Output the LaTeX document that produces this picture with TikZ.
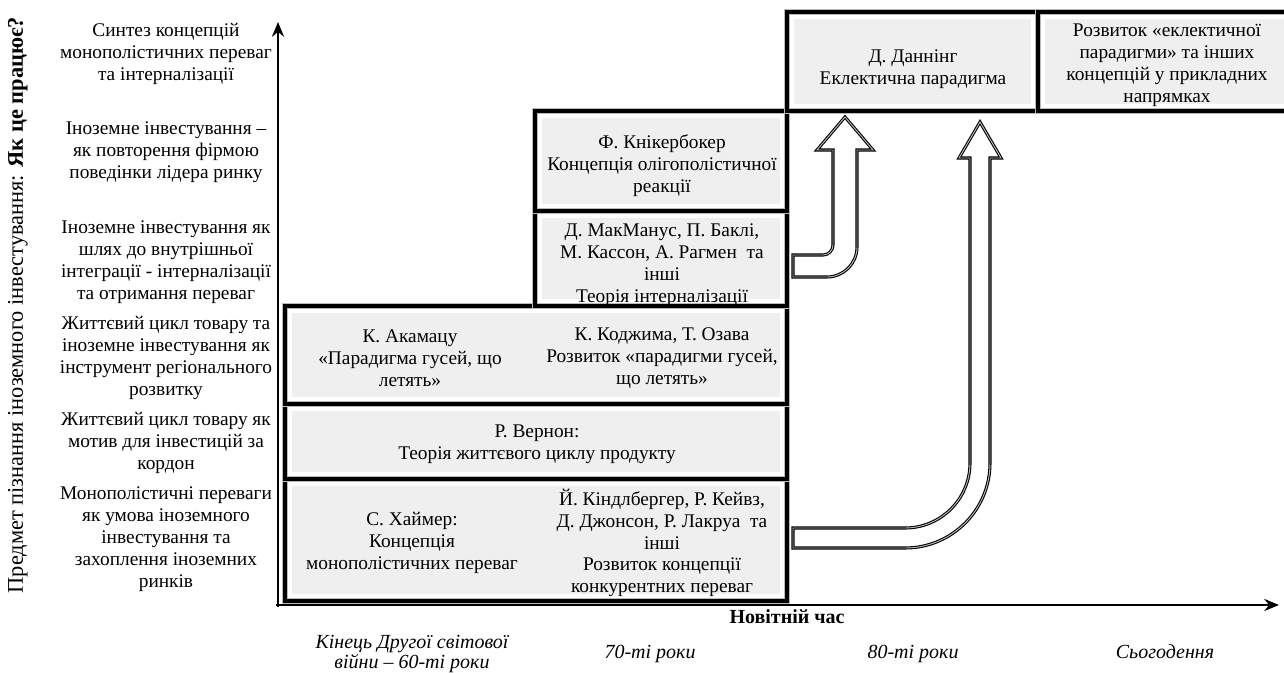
\documentclass[tikz,border=0pt]{standalone}
\usepackage{fontspec}
\setmainfont{Liberation Serif}
\usetikzlibrary{arrows.meta}
\definecolor{boxgrey}{HTML}{EFEFEF}
\tikzset{
  lbl/.style={align=center, inner sep=0pt, font=\fontsize{14.5}{16.4}\selectfont},
  frame/.style={draw=black, line width=3pt, preaction={draw=gray!55, line width=4.6pt}},
  axis/.style={line width=2pt, -{Stealth[length=11pt,width=9pt]}},
  blockarrow/.style={draw=black, line width=0.8pt, double=gray!55, double distance=0.7pt, fill=white, line join=miter},
  timelbl/.style={align=center, inner sep=0pt, font=\fontsize{15}{15.5}\selectfont\itshape},
}
\begin{document}
\begin{tikzpicture}[x=0.75pt,y=-0.75pt]
\useasboundingbox (0,0) rectangle (1284,673);
% axes
\coordinate (O) at (276,605);
\coordinate (Ytop) at (278,22);
\coordinate (Yb) at (278,607);
\coordinate (Xend) at (1279,605);
\draw[axis] (Yb) -- (Ytop);
\draw[axis] (O) -- (Xend);
% box fills
\foreach \a/\b/\c/\d in {285/479/787/601, 285/404/787/479, 285/306/787/404, 535/211/787/306, 535/111/787/211, 787/12/1038/111, 1038/12/1296/111}{
  \fill[white] (\a,\b) rectangle (\c,\d);
  \fill[boxgrey] (\a+7,\b+7) rectangle (\c-7,\d-7);
}
% frames
\foreach \a/\b/\c/\d in {285/479/787/601, 285/404/787/479, 285/306/787/404, 535/211/787/306, 535/111/787/211, 787/12/1038/111, 1038/12/1296/111}{
  \draw[frame] (\a,\b) rectangle (\c,\d);
}
% block arrows
\draw[blockarrow] (793,255) -- (823,255) arc[start angle=-90,end angle=0,radius=7.5pt]
  -- (833,150) -- (817,150) -- (845,117) -- (873,150) -- (857,150) -- (857,247)
  arc[start angle=0,end angle=-90,radius=22.5pt] -- (793,277) -- cycle;
\draw[blockarrow] (793,528) -- (905,528) arc[start angle=-90,end angle=0,radius=48.75pt]
  -- (970,158) -- (959,158) -- (980,122) -- (1001,158) -- (990,158) -- (990,463)
  arc[start angle=0,end angle=-90,radius=63.75pt] -- (793,548) -- cycle;
% vertical axis title
\node[rotate=90, inner sep=0pt, font=\fontsize{16.8}{17}\selectfont] (ytitle) at (18,305)
  {Предмет пізнання іноземного інвестування: \textbf{Як це працює?}};
% row labels
\node[lbl] (r7) at (166,54) {Синтез концепцій\\монополістичних переваг\\та інтерналізації};
\node[lbl] (r6) at (166,152) {Іноземне інвестування –\\як повторення фірмою\\поведінки лідера ринку};
\node[lbl] (r5) at (166,262) {Іноземне інвестування як\\шлях до внутрішньої\\інтеграції - інтерналізації\\та отримання переваг};
\node[lbl] (r4) at (166,358) {Життєвий цикл товару та\\іноземне інвестування як\\інструмент регіонального\\розвитку};
\node[lbl] (r3) at (166,443) {Життєвий цикл товару як\\мотив для інвестицій за\\кордон};
\node[lbl] (r1) at (166,539) {Монополістичні переваги\\як умова іноземного\\інвестування та\\захоплення іноземних\\ринків};
% box texts
\node[lbl] (haimer) at (412,543) {С. Хаймер:\\Концепція\\монополістичних переваг};
\node[lbl] (kindl) at (662,543) {Й. Кіндлбергер, Р. Кейвз,\\Д. Джонсон, Р. Лакруа\ \ та\\інші\\Розвиток концепції\\конкурентних переваг};
\node[lbl] (vernon) at (537,444) {Р. Вернон:\\Теорія життєвого циклу продукту};
\node[lbl] (akamatsu) at (410,358) {К. Акамацу\\«Парадигма гусей, що\\летять»};
\node[lbl] (kojima) at (662,358) {К. Коджима, Т. Озава\\Розвиток «парадигми гусей,\\що летять»};
\node[lbl] (mcmanus) at (662,265) {Д. МакМанус, П. Баклі,\\М. Кассон, А. Рагмен\ \ та\\інші\\Теорія інтерналізації};
\node[lbl] (knick) at (662,166) {Ф. Кнікербокер\\Концепція олігополістичної\\реакції};
\node[lbl] (dunning) at (913,69) {Д. Даннінг\\Еклектична парадигма};
\node[lbl] (eclectic) at (1167,65) {Розвиток «еклектичної\\парадигми» та інших\\концепцій у прикладних\\напрямках};
% time axis labels
\node[inner sep=0pt, font=\fontsize{15}{15}\selectfont\bfseries] (xtitle) at (787,617) {Новітній час};
\node[timelbl] (t1) at (412,654) {Кінець Другої світової\\війни – 60-ті роки};
\node[timelbl, anchor=base] (t2) at (650,658) {70-ті роки};
\node[timelbl, anchor=base] (t3) at (913,658) {80-ті роки};
\node[timelbl, anchor=base] (t4) at (1165,658) {Сьогодення};
\end{tikzpicture}
\end{document}
